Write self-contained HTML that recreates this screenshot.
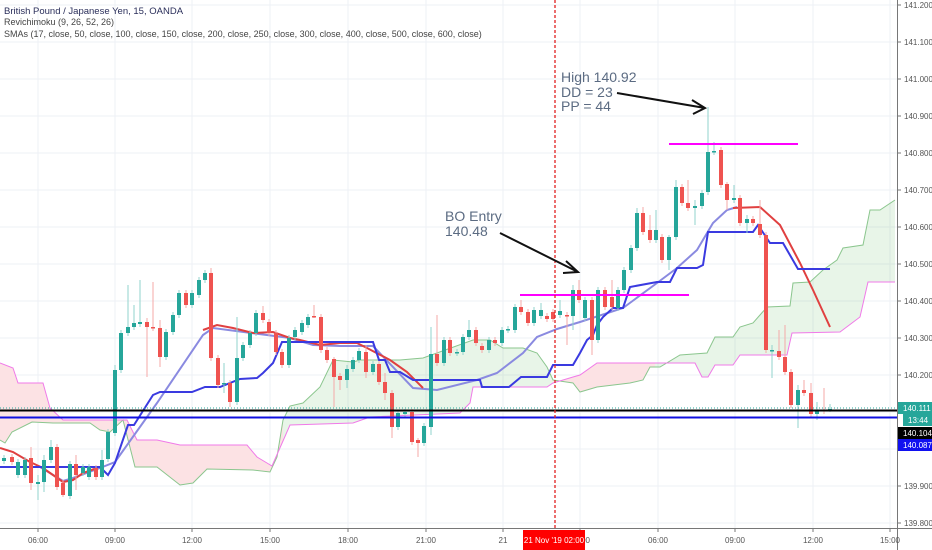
<!DOCTYPE html>
<html><head><meta charset="utf-8"><style>
html,body{margin:0;padding:0;background:#fff;}
svg{display:block;font-family:"Liberation Sans",Arial,sans-serif;}
</style></head><body>
<svg id="s" width="932" height="550" xmlns="http://www.w3.org/2000/svg">
<defs>
<clipPath id="pinkc"><rect x="0" y="0" width="283" height="550"/><rect x="553" y="0" width="102" height="550"/></clipPath>
<clipPath id="plot"><rect x="0" y="0" width="897" height="528"/></clipPath>
</defs>
<g id="grid"></g>
<g id="cloud" clip-path="url(#plot)"></g>
<g id="lines" clip-path="url(#plot)"></g>
<g id="candles"></g>
<g id="over"></g>
</svg>
<script>
const NS="http://www.w3.org/2000/svg";
function el(p,t,a,txt){const e=document.createElementNS(NS,t);for(const k in a)e.setAttribute(k,a[k]);if(txt!==undefined)e.textContent=txt;document.getElementById(p).appendChild(e);return e;}
const vx=[38,115,192,270,348,426,503,580,658,735,813,890];
vx.forEach(x=>el("grid","line",{x1:x,y1:0,x2:x,y2:528,stroke:"#eef1f6","stroke-width":1}));
for(let k=0;k<=14;k++){const y=523-k*37;el("grid","line",{x1:0,y1:y,x2:897,y2:y,stroke:"#eef1f6","stroke-width":1});}
const A=[[0,440],[5,443],[12,432],[32,422],[53,423],[90,423],[100,430],[110,432],[123,420],[135,467],[157,467],[180,485],[193,483],[207,469],[253,470],[270,472],[277,457],[283,420],[290,406],[303,403],[320,387],[333,360],[353,362],[360,360],[400,360],[423,358],[473,340],[490,340],[503,348],[523,348],[537,353],[547,367],[553,380],[573,383],[580,392],[597,387],[630,383],[643,380],[650,367],[660,367],[680,355],[707,353],[715,337],[733,337],[740,327],[753,323],[767,307],[790,306],[793,283],[810,282],[823,270],[837,260],[843,248],[863,245],[870,210],[880,210],[895,200]];
const B=[[0,363],[13,368],[18,383],[43,383],[50,408],[63,420],[127,420],[137,440],[157,440],[180,445],[247,445],[257,457],[267,463],[272,466],[290,425],[353,423],[370,417],[460,413],[470,403],[473,387],[480,387],[547,387],[553,383],[573,377],[580,375],[597,363],[677,363],[695,363],[702,377],[708,377],[715,365],[733,365],[740,355],[787,355],[792,333],[840,332],[860,317],[868,282],[895,282]];
const pts=a=>a.map(p=>p.join(",")).join(" ");
const poly=pts(A)+" "+pts(B.slice().reverse());
el("cloud","polygon",{points:poly,fill:"rgba(76,175,80,0.13)"});
el("cloud","polygon",{points:poly,fill:"rgb(252,226,228)","clip-path":"url(#pinkc)"});
el("cloud","polyline",{points:pts(A),fill:"none",stroke:"#8bc68e","stroke-width":1});
el("cloud","polyline",{points:pts(B),fill:"none",stroke:"#f07ae8","stroke-width":1});
const light=[[40,467],[63,481],[73,478],[100,468],[115,462],[157,403],[203,335],[213,328],[290,338],[313,345],[340,346],[373,346],[413,388],[437,390],[477,380],[497,373],[523,353],[537,337],[557,329],[580,322],[623,308],[657,283],[677,268],[697,250],[713,223],[727,210],[737,207]];
el("lines","polyline",{points:pts(light),fill:"none",stroke:"#8a8ae0","stroke-width":2});
const redL=[[0,448],[13,452],[30,462],[43,468],[63,482],[73,480],[83,473],[97,468]];
const redM=[[203,330],[217,325],[233,328],[253,333],[273,332],[290,338],[300,340],[320,345],[340,343],[357,343],[367,348],[390,360],[407,372],[423,388]];
const redR=[[733,208],[760,207],[780,225],[800,263],[813,290],[830,327]];
[redL,redM,redR].forEach(r=>el("lines","polyline",{points:pts(r),fill:"none",stroke:"#e04040","stroke-width":2}));
const blue=[[0,467],[100,467],[108,475],[115,463],[128,425],[134,425],[153,395],[160,392],[192,392],[205,387],[220,387],[240,379],[257,378],[263,373],[273,363],[282,342],[373,342],[379,360],[385,360],[390,372],[400,372],[413,380],[480,380],[482,387],[509,387],[521,377],[547,377],[553,365],[573,365],[580,353],[587,340],[593,335],[597,325],[603,317],[613,308],[623,308],[630,287],[657,282],[670,282],[677,268],[697,268],[703,265],[708,232],[753,232],[758,225],[770,243],[783,243],[798,269],[830,269]];
el("lines","polyline",{points:pts(blue),fill:"none",stroke:"#3a3ae0","stroke-width":2});
const C=[[4,458,461,'g'],[12,457,462,'r'],[18,462,475,'g'],[25,460,475,'g'],[31,458,483,'r',447,490],[38,482,484,'g',475,500],[44,460,482,'g',455,492],[51,447,460,'g',440],[57,447,487,'r'],[63,483,495,'r',480,497],[70,464,496,'g'],[76,464,475,'r',455,490],[83,467,473,'g'],[89,467,477,'g'],[96,468,477,'r'],[102,460,477,'g',450],[108,432,459,'g'],[115,370,433,'g',365],[121,333,370,'g'],[128,327,333,'g',285],[134,323,327,'g',305],[140,322,324,'g',280],[147,322,327,'r',318,377],[153,327,328,'r',282],[160,328,357,'r',320,367],[166,332,357,'g'],[173,315,332,'g'],[179,293,315,'g'],[186,293,305,'r'],[192,293,305,'g'],[199,280,295,'g'],[205,273,280,'g'],[211,273,358,'r',268],[218,358,385,'r'],[224,383,384,'g',363,393],[230,383,402,'r',380,407],[237,358,402,'g',317],[243,345,358,'g'],[250,333,345,'g'],[256,313,333,'g'],[263,313,320,'r',306],[269,322,333,'r'],[276,333,352,'r'],[282,352,365,'r'],[289,338,365,'g'],[295,330,337,'g'],
[302,323,332,'g'],[308,317,325,'g'],[314,316,317,'r',305,318],[321,317,350,'r'],[327,350,360,'r'],[334,359,377,'r',357,407],[340,376,380,'r',373,390],[347,369,380,'g',365,388],[353,360,369,'g'],[359,351,360,'g'],[366,352,372,'r',345,378],[373,364,372,'g'],[379,364,382,'r'],[385,382,393,'r',373,400],[392,393,427,'r',390,438],[398,413,427,'g'],[405,412,414,'g'],[412,412,442,'r'],[418,440,443,'r',438,457],[424,426,443,'g'],[431,354,427,'g',327,435],[437,354,363,'r',315],[444,340,363,'g'],[450,340,353,'r'],[457,352,353,'g'],[463,337,352,'g'],[469,330,337,'g',320],[476,330,343,'r'],[482,346,350,'r'],[489,340,350,'g'],[495,340,343,'r'],[502,330,343,'g'],[508,329,330,'g'],[515,307,330,'g'],[521,307,312,'r',300],[528,312,323,'r'],[534,310,323,'g'],[541,310,316,'g',303],[547,316,319,'r'],[553,312,319,'r'],[560,311,315,'g',300],[567,315,316,'r',312,345],[573,290,316,'g',285,330],[579,290,300,'r',280],[585,300,318,'g'],
[592,300,340,'r',297,355],[598,290,340,'g'],[605,290,307,'r'],[612,297,307,'r',280],[618,290,308,'g'],[624,270,290,'g'],[631,248,270,'g'],[637,213,248,'g',208],[643,213,232,'r',207],[650,230,240,'r',215],[656,230,240,'g',210],[662,237,260,'r'],[669,237,260,'g',235,270],[676,187,237,'g',180],[682,187,203,'r'],[688,203,208,'r',180],[695,206,208,'g',200,225],[702,193,206,'g'],[708,152,192,'g',107],[714,151,152,'g',142],[721,150,185,'r'],[727,184,200,'r',182,210],[734,198,200,'g',185],[740,198,223,'r'],[747,219,223,'g',215,233],[753,219,223,'r'],[760,224,235,'r',200],[766,235,350,'r'],[772,350,351,'g',345,378],[779,351,357,'r',330],[785,357,372,'r',325],[791,372,405,'r'],[798,390,405,'g',385,428],[804,390,393,'r',380],[811,393,414,'r',383],[817,410,414,'g',402,420],[824,410,411,'r',388],[830,409,410,'g',404,412]];
C.forEach(c=>{const [x,t,b,col]=c;const wt=c[4]!==undefined?c[4]:t-3;const wb=c[5]!==undefined?c[5]:b+3;
const fc=col==='g'?'#26a69a':'#ef5350';const wc=col==='g'?'#92d3cc':'#f5a9a7';
el("candles","line",{x1:x,y1:wt,x2:x,y2:wb,stroke:wc,"stroke-width":1});
el("candles","rect",{x:x-2,y:t,width:4,height:Math.max(1.5,b-t),fill:fc});});
el("over","line",{x1:0,y1:408,x2:897,y2:408,stroke:"#26a69a","stroke-width":1,"stroke-dasharray":"1,2"});
el("over","line",{x1:0,y1:410.5,x2:897,y2:410.5,stroke:"#000","stroke-width":2});
el("over","line",{x1:0,y1:417.5,x2:897,y2:417.5,stroke:"#1010e0","stroke-width":2});
el("over","line",{x1:520,y1:295,x2:689,y2:295,stroke:"#ff00ff","stroke-width":2});
el("over","line",{x1:669,y1:144,x2:798,y2:144,stroke:"#ff00ff","stroke-width":2});
el("over","line",{x1:555,y1:0,x2:555,y2:528,stroke:"#e02020","stroke-width":1.3,"stroke-dasharray":"3,2"});
el("over","path",{d:"M617,93 L705,108 M692,100 L705,108 L693,114",fill:"none",stroke:"#111","stroke-width":2});
el("over","path",{d:"M500,233 L578,272 M566,261 L578,272 L563,273",fill:"none",stroke:"#111","stroke-width":2});
[["High 140.92",561,82],["DD = 23",561,97],["PP = 44",561,111]].forEach(t=>el("over","text",{x:t[1],y:t[2],"font-size":14,fill:"#5b6b82"},t[0]));
el("over","text",{x:445,y:221,"font-size":14,fill:"#5b6b82"},"BO Entry");
el("over","text",{x:445,y:236,"font-size":14,fill:"#5b6b82"},"140.48");
el("over","text",{x:4,y:14,"font-size":9.5,fill:"#2a2e5a"},"British Pound / Japanese Yen, 15, OANDA");
el("over","text",{x:4,y:25,"font-size":9,fill:"#444"},"Revichimoku (9, 26, 52, 26)");
el("over","text",{x:4,y:37,"font-size":9,fill:"#444"},"SMAs (17, close, 50, close, 100, close, 150, close, 200, close, 250, close, 300, close, 400, close, 500, close, 600, close)");
el("over","rect",{x:897,y:0,width:35,height:550,fill:"#fff"});
el("over","rect",{x:0,y:528,width:932,height:22,fill:"#fff"});
el("over","line",{x1:897.5,y1:0,x2:897.5,y2:550,stroke:"#777","stroke-width":1});
el("over","line",{x1:0,y1:528.5,x2:932,y2:528.5,stroke:"#777","stroke-width":1});
for(let k=0;k<=14;k++){if(k===2||k===3)continue;const y=523-k*37;const v=(139.8+k*0.1).toFixed(3);
el("over","line",{x1:897,y1:y,x2:901,y2:y,stroke:"#777"});
el("over","text",{x:904,y:y+3,"font-size":8,fill:"#555"},v);}
const tl=["06:00","09:00","12:00","15:00","18:00","21:00","21","03:00","06:00","09:00","12:00","15:00"];
vx.forEach((x,i)=>{el("over","line",{x1:x,y1:528,x2:x,y2:532,stroke:"#777"});
el("over","text",{x:x,y:543,"font-size":8,fill:"#555","text-anchor":"middle"},tl[i]);});
el("over","rect",{x:523,y:530,width:62,height:20,fill:"#f00"});
el("over","text",{x:554,y:543,"font-size":8,fill:"#fff","text-anchor":"middle"},"21 Nov '19   02:00");
el("over","rect",{x:898,y:402,width:34,height:12,fill:"#26a69a"});
el("over","text",{x:903,y:411,"font-size":8,fill:"#fff"},"140.111");
el("over","rect",{x:903,y:414,width:29,height:12,fill:"#26a69a"});
el("over","text",{x:908,y:423,"font-size":8,fill:"#fff"},"13:44");
el("over","rect",{x:898,y:427,width:34,height:12,fill:"#000"});
el("over","text",{x:903,y:436,"font-size":8,fill:"#fff"},"140.104");
el("over","rect",{x:898,y:439,width:34,height:12,fill:"#1010f0"});
el("over","text",{x:903,y:448,"font-size":8,fill:"#fff"},"140.087");
</script>
</body></html>
